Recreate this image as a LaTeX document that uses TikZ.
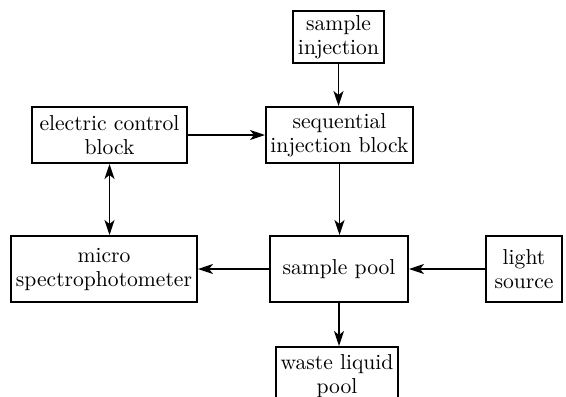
\documentclass[tikz,border=0pt]{standalone}
\usetikzlibrary{arrows.meta}
\begin{document}
\begin{tikzpicture}[x=0.5pt,y=-0.5pt,
  box/.style={draw, line width=1pt, align=center, inner sep=0pt,
    font=\fontsize{10.8}{12}\selectfont},
  tip/.style={Stealth[length=7.5pt,width=5pt,inset=2pt]},
  arr/.style={line width=0.8pt, -{Stealth[length=7.5pt,width=5pt,inset=2pt]}},
  darr/.style={line width=0.8pt, {Stealth[length=7.5pt,width=5pt,inset=2pt]}-{Stealth[length=7.5pt,width=5pt,inset=2pt]}}]
\useasboundingbox (0,0) rectangle (566,396);
\node[box, minimum width=45.5pt, minimum height=26pt] (si) at (338.5,37) {sample\\injection};
\node[box, minimum width=77.5pt, minimum height=28pt] (ecb) at (109.5,135) {electric control\\block};
\node[box, minimum width=73.5pt, minimum height=28pt] (sib) at (339.5,135) {sequential\\injection block};
\node[box, minimum width=93pt, minimum height=33pt] (mic) at (104,269) {micro\\spectrophotometer};
\node[box, minimum width=69pt, minimum height=33pt] (pool) at (339,269) {sample pool};
\node[box, minimum width=38pt, minimum height=33pt] (ls) at (524,269) {light\\source};
\node[box, minimum width=61pt, minimum height=29pt] (wl) at (337,376) {waste liquid\\pool};
\draw[arr] (si.south) -- (si.south |- sib.north);
\draw[arr] (ecb.east) -- (sib.west);
\draw[darr] (ecb.south) -- (ecb.south |- mic.north);
\draw[arr] (sib.south) -- (sib.south |- pool.north);
\draw[arr] (pool.west) -- (mic.east);
\draw[arr] (ls.west) -- (pool.east);
\draw[arr] (pool.south) -- (pool.south |- wl.north);
\end{tikzpicture}
\end{document}
